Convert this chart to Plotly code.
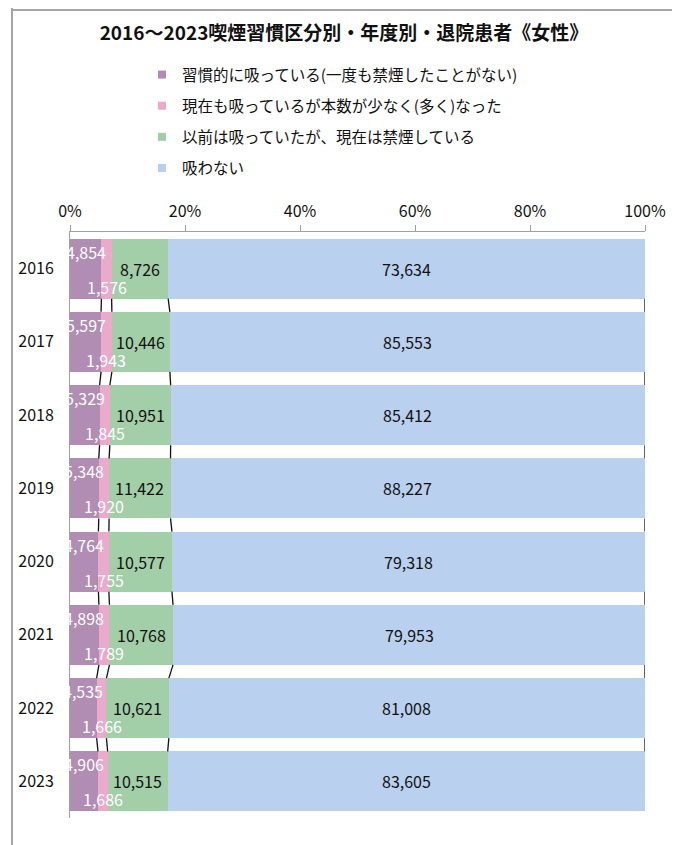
import plotly.graph_objects as go

years = ["2016", "2017", "2018", "2019", "2020", "2021", "2022", "2023"]
series_names = [
    "習慣的に吸っている(一度も禁煙したことがない)",
    "現在も吸っているが本数が少なく(多く)なった",
    "以前は吸っていたが、現在は禁煙している",
    "吸わない",
]
habitual = [4854, 5597, 5329, 5348, 4764, 4898, 4535, 4906]
reduced = [1576, 1943, 1845, 1920, 1755, 1789, 1666, 1686]
quit_now = [8726, 10446, 10951, 11422, 10577, 10768, 10621, 10515]
never = [73634, 85553, 85412, 88227, 79318, 79953, 81008, 83605]
tick_vals = [0, 0.2, 0.4, 0.6, 0.8, 1.0]
tick_text = ["0%", "20%", "40%", "60%", "80%", "100%"]
title_text = "2016～2023喫煙習慣区分別・年度別・退院患者《女性》"

colors = ["#B18CB3", "#EBAACB", "#A2CEA8", "#BAD0EF"]
label_colors = ["white", "white", "#111111", "#111111"]
label_shift = [17, -18, 0, 0]
FONT = "Noto Sans CJK JP"

# page body has an 8px margin; work in page pixels and convert
OFF = 8
W, H = 680 - OFF, 845 - OFF
PL, PR, PT, PB = 70, 645, 232, 818          # plot area in page px
ML, MR, MT, MB = PL - OFF, W - (PR - OFF), PT - OFF, H - (PB - OFF)
PW = PR - PL
PH = PB - PT
BARGAP = 0.18


def px_x(p):
    return (p - PL) / PW


def px_y(p):
    return 1 + (PT - p) / PH


data = [habitual, reduced, quit_now, never]
totals = [sum(v[i] for v in data) for i in range(len(years))]
shares = [[v[i] / totals[i] for i in range(len(years))] for v in data]
ypos = list(range(len(years)))

fig = go.Figure()
for k, name in enumerate(series_names):
    fig.add_trace(go.Bar(
        x=shares[k], y=ypos, orientation="h", name=name,
        marker=dict(color=colors[k], line=dict(width=0)),
        showlegend=False, hoverinfo="skip",
    ))
    fig.add_trace(go.Scatter(
        x=[None], y=[None], mode="markers", name=name,
        marker=dict(symbol="square", size=8, color=colors[k]),
        legendgroup="g%d" % k, showlegend=True,
    ))

annotations = []
shapes = []
half = (1 - BARGAP) / 2
for i in range(len(years)):
    cum = 0
    for k in range(4):
        s = shares[k][i]
        annotations.append(dict(
            x=cum + s / 2, y=i, xref="x", yref="y", text=f"{data[k][i]:,}",
            showarrow=False, yshift=label_shift[k],
            font=dict(family=FONT, size=16, color=label_colors[k]),
        ))
        cum += s

# series lines between bars
for i in range(len(years) - 1):
    c0 = 0
    c1 = 0
    for k in range(4):
        c0 += shares[k][i]
        c1 += shares[k][i + 1]
        shapes.append(dict(
            type="line", xref="x", yref="y",
            x0=c0, y0=i + half, x1=c1, y1=i + 1 - half,
            line=dict(color="#111111", width=1.3),
        ))

# frame of the chart sheet
frame_col = "#A6A6A6"
shapes.append(dict(type="line", xref="paper", yref="paper",
                   x0=px_x(12), x1=px_x(12), y0=px_y(OFF), y1=px_y(860),
                   line=dict(color=frame_col, width=2)))
shapes.append(dict(type="line", xref="paper", yref="paper",
                   x0=px_x(676), x1=px_x(676), y0=px_y(OFF), y1=px_y(860),
                   line=dict(color=frame_col, width=2)))
shapes.append(dict(type="line", xref="paper", yref="paper",
                   x0=px_x(12), x1=px_x(676), y0=px_y(10), y1=px_y(10),
                   line=dict(color=frame_col, width=2)))

fig.update_layout(
    width=W, height=H,
    margin=dict(l=ML, r=MR, t=MT, b=MB, autoexpand=False),
    paper_bgcolor="white", plot_bgcolor="white",
    barmode="stack", bargap=BARGAP,
    font=dict(family=FONT, size=16, color="#111111"),
    title=dict(text="<b>" + title_text + "</b>", x=0.5, xanchor="center",
               y=1 - (33 - OFF) / H, yanchor="middle",
               font=dict(family=FONT, size=19, color="#111111")),
    legend=dict(x=px_x(142), xanchor="left", y=px_y(58), yanchor="top",
                orientation="v", traceorder="grouped", tracegroupgap=8,
                font=dict(family=FONT, size=15.5, color="#111111"),
                bgcolor="rgba(0,0,0,0)", itemwidth=30),
    xaxis=dict(range=[0, 1], side="top", tickvals=tick_vals, ticktext=tick_text,
               showgrid=False, zeroline=False, showline=True, automargin=False,
               linecolor="#A0A0A0", linewidth=1, ticks="outside", ticklen=6,
               tickcolor="#A0A0A0", ticklabelstandoff=2,
               tickfont=dict(family=FONT, size=16)),
    yaxis=dict(range=[len(years) - 0.5, -0.5], tickvals=ypos, ticktext=years,
               showgrid=False, zeroline=False, showline=True, automargin=False,
               linecolor="#A0A0A0", linewidth=1, ticks="",
               ticklabelstandoff=12, tickfont=dict(family=FONT, size=16)),
    annotations=annotations, shapes=shapes,
)

fig.write_html("out.html")
